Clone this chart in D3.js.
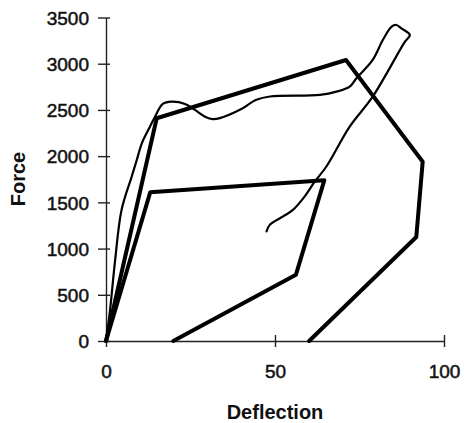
<!DOCTYPE html>
<html lang="en">
<head>
<meta charset="UTF-8">
<title>Force vs Deflection</title>
<script src="https://d3js.org/d3.v7.min.js"></script>
<style>
html, body { margin: 0; padding: 0; background: white; }
body { font-family: 'Liberation Sans', Arial, sans-serif; }
.tick text { font-family: 'Liberation Sans', Arial, sans-serif; font-size: 19px; fill: #111; stroke: #111; stroke-width: 0.5px; }
.axis path, .axis line { stroke: #222; stroke-width: 1.4px; fill: none; }
.axis-title { font-family: 'Liberation Sans', Arial, sans-serif; font-weight: bold; font-size: 20px; fill: #111; }
.thick { fill: none; stroke: #000; stroke-width: 4px; stroke-linejoin: round; stroke-linecap: round; }
.thin { fill: none; stroke: #000; stroke-width: 2.2px; stroke-linejoin: round; stroke-linecap: round; }
</style>
</head>
<body>
<div id="chart"></div>
<script>

// --------------------------------------
// Data
// --------------------------------------

// outer thick polygon (deflection, force)
var outerDefl  = [0, 15, 71, 93.7, 91.8, 60.1];
var outerForce = [0, 2410, 3040, 1940, 1125, 0];

// inner thick polygon
var innerDefl  = [0, 13.1, 64.6, 56.2, 19.9];
var innerForce = [0, 1610, 1740, 718, 0];

// thin measured curve
var testDefl  = [0, 1.2, 2.7, 4.6, 7.6, 9.1, 10.6, 13.0, 14.5, 16.8, 19.4, 23.4, 26.3, 29.3, 31.6, 33.7, 39.6, 44.5, 48.5,
                 63.3, 68.2, 72.1, 74.1, 78.9, 81.9, 84.5, 85.9, 87.4, 89.9, 88.4, 78.9, 72.1, 65.2, 61.8, 58.8,
                 55.4, 52.4, 48.5, 47.5];
var testForce = [0, 335, 876, 1417, 1778, 1958, 2139, 2318, 2427, 2565, 2590, 2565, 2500, 2427, 2400, 2411, 2501, 2609, 2645,
                 2663, 2698, 2752, 2843, 3041, 3257, 3401, 3419, 3383, 3311, 3236, 2643, 2320, 1888, 1726, 1564,
                 1421, 1348, 1259, 1186];

var xTicks = [0, 50, 100];
var yTicks = [0, 500, 1000, 1500, 2000, 2500, 3000, 3500];

function zip(xs, ys) { return xs.map(function(d, i) { return [d, ys[i]]; }); }

// --------------------------------------
// Size and scales
// --------------------------------------

var totalWidth = 464, totalHeight = 423;

var svg = d3.select("#chart").append("svg")
  .attr("width", totalWidth)
  .attr("height", totalHeight);

var x = d3.scaleLinear().domain([0, 100]).range([106, 444]);
var y = d3.scaleLinear().domain([0, 3500]).range([341, 17.5]);

// --------------------------------------
// Axes
// --------------------------------------

var yAxis = svg.append("g")
  .attr("class", "axis")
  .attr("transform", "translate(" + x(0) + ",0)")
  .call(d3.axisLeft(y).tickValues(yTicks).tickSize(8).tickSizeOuter(0).tickPadding(9).tickFormat(d3.format("d")));
yAxis.selectAll(".tick line").attr("x1", 4);
yAxis.selectAll(".tick text").attr("dy", "0.35em");

var xAxis = svg.append("g")
  .attr("class", "axis")
  .attr("transform", "translate(0," + y(0) + ")")
  .call(d3.axisBottom(x).tickValues(xTicks).tickSize(6).tickSizeOuter(0).tickPadding(18));
xAxis.selectAll(".tick line").attr("y1", -6);

svg.append("text")
  .attr("class", "axis-title")
  .attr("x", 275)
  .attr("y", 419)
  .attr("text-anchor", "middle")
  .text("Deflection");

svg.append("text")
  .attr("class", "axis-title")
  .attr("transform", "translate(25,179) rotate(-90)")
  .attr("text-anchor", "middle")
  .text("Force");

// --------------------------------------
// Lines
// --------------------------------------

var polyLine = d3.line()
  .x(function(d) { return x(d[0]); })
  .y(function(d) { return y(d[1]); });

var curveLine = d3.line()
  .curve(d3.curveCatmullRom.alpha(0.5))
  .x(function(d) { return x(d[0]); })
  .y(function(d) { return y(d[1]); });

svg.append("path").attr("class", "thin").attr("d", curveLine(zip(testDefl, testForce)));
svg.append("path").attr("class", "thick").attr("d", polyLine(zip(outerDefl, outerForce)));
svg.append("path").attr("class", "thick").attr("d", polyLine(zip(innerDefl, innerForce)));

</script>
</body>
</html>
